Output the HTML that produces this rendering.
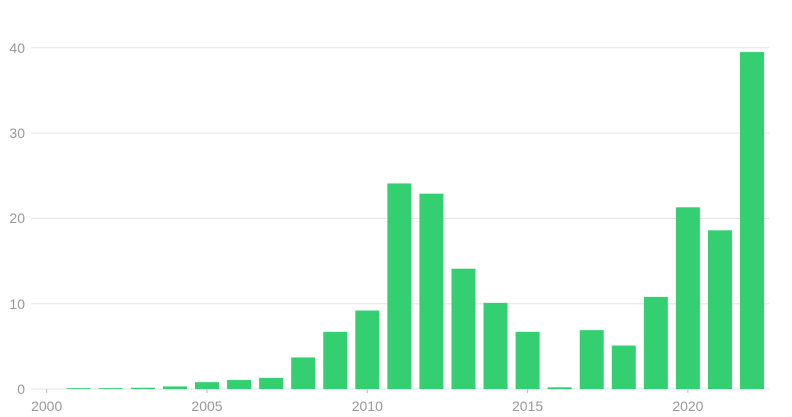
<!DOCTYPE html>
<html><head><meta charset="utf-8"><style>
html,body{margin:0;padding:0;background:#fff;}
svg{display:block;font-family:"Liberation Sans",sans-serif;}
</style></head><body>
<svg width="792" height="417" viewBox="0 0 792 417">
<g stroke="#e3e3e3" stroke-width="1">
<line x1="31" x2="769" y1="47.8" y2="47.8"/>
<line x1="31" x2="769" y1="133.1" y2="133.1"/>
<line x1="31" x2="769" y1="218.4" y2="218.4"/>
<line x1="31" x2="769" y1="303.7" y2="303.7"/>
<line x1="31" x2="769" y1="389" y2="389"/>
</g>
<g fill="#999" font-size="14" text-anchor="end">
<text x="25" y="53">40</text>
<text x="25" y="138">30</text>
<text x="25" y="223">20</text>
<text x="25" y="309">10</text>
<text x="25" y="394">0</text>
</g>
<g id="bars" fill="#33cf70"></g>
<g stroke="#bbb" stroke-width="1">
<line x1="46.7" x2="46.7" y1="389" y2="393"/>
<line x1="207" x2="207" y1="389" y2="393"/>
<line x1="367.3" x2="367.3" y1="389" y2="393"/>
<line x1="527.6" x2="527.6" y1="389" y2="393"/>
<line x1="687.9" x2="687.9" y1="389" y2="393"/>
</g>
<g fill="#999" font-size="14" text-anchor="middle">
<text x="46.7" y="411">2000</text>
<text x="207" y="411">2005</text>
<text x="367.3" y="411">2010</text>
<text x="527.6" y="411">2015</text>
<text x="687.9" y="411">2020</text>
</g>
</svg>
<script>
var v={2001:.1,2002:.1,2003:.15,2004:.3,2005:.8,2006:1.05,2007:1.3,2008:3.7,2009:6.7,2010:9.2,2011:24.1,2012:22.9,2013:14.1,2014:10.1,2015:6.7,2016:.2,2017:6.9,2018:5.1,2019:10.8,2020:21.3,2021:18.6,2022:39.5};
var g=document.getElementById('bars'),s='';
for(var y in v){var c=46.7+32.06*(y-2000),h=v[y]*8.53;
s+='<rect x="'+(c-12)+'" y="'+(389-h)+'" width="24" height="'+h+'"/>';}
g.innerHTML=s;
</script>
</body></html>
